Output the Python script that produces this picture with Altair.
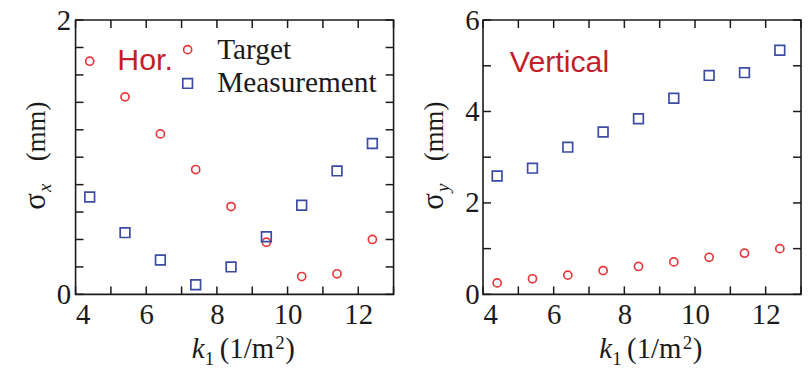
import altair as alt
import pandas as pd

# ---------------- data ----------------
k1 = [4.4, 5.4, 6.4, 7.4, 8.4, 9.4, 10.4, 11.4, 12.4]
hor_target = [1.70, 1.44, 1.17, 0.91, 0.64, 0.38, 0.13, 0.15, 0.40]
hor_meas = [0.71, 0.45, 0.25, 0.07, 0.20, 0.42, 0.65, 0.90, 1.10]
ver_target = [0.25, 0.34, 0.42, 0.52, 0.61, 0.71, 0.81, 0.90, 1.00]
ver_meas = [2.59, 2.76, 3.22, 3.55, 3.84, 4.29, 4.79, 4.85, 5.34]

series = ["Target", "Measurement"]
x_ticks = [4, 5, 6, 7, 8, 9, 10, 11, 12, 13]
x_labels = [4, 6, 8, 10, 12]
hor_y_ticks = [0, 0.2, 0.4, 0.6, 0.8, 1.0, 1.2, 1.4, 1.6, 1.8, 2.0]
hor_y_labels = [0, 1, 2]
ver_y_ticks = [0, 1, 2, 3, 4, 5, 6]
ver_y_labels = [0, 2, 4, 6]

# ---------------- style ----------------
W, H = 320, 276
RED, BLUE, TXT_RED = "#e8383d", "#3b4ba6", "#c41e2a"
SERIF, SANS = "Liberation Serif", "Liberation Sans"
INK = "#1a1a1a"
TICK = 8


def make_df(t, m):
    return pd.DataFrame({
        "k1": k1 + k1,
        "sigma": t + m,
        "series": ["Target"] * len(k1) + ["Measurement"] * len(k1),
    })


def text(s, x, y, size, font=SERIF, style="normal", color=INK, angle=0):
    return alt.Chart(pd.DataFrame({"t": [s]})).mark_text(
        font=font, fontSize=size, fontStyle=style, color=color,
        align="left", baseline="alphabetic", angle=angle,
    ).encode(text="t:N", x=alt.value(x), y=alt.value(y))


def panel(df, ydom, yticks, ylabels, sub, show_legend, label, label_x, label_y, ytitle_x, lpad):
    xscale = alt.Scale(domain=[4, 13], nice=False, zero=False)
    yscale = alt.Scale(domain=ydom, nice=False, zero=False)
    xaxis = alt.Axis(values=x_labels, title=None, ticks=False, domain=False, grid=False,
                     labelPadding=6, format="d", labelFont=SERIF, labelFontSize=29,
                     labelColor=INK)
    yaxis = alt.Axis(values=ylabels, title=None, ticks=False, domain=False, grid=False,
                     labelPadding=lpad, format="d", labelFont=SERIF, labelFontSize=29,
                     labelColor=INK)

    if show_legend:
        leg = alt.Legend(title=None, orient="none", legendX=98, legendY=15,
                         labelFont=SERIF, labelFontSize=29.5, labelColor=INK,
                         rowPadding=3, labelOffset=15, padding=0, labelLimit=0,
                         symbolStrokeWidth=1.7)
    else:
        leg = None

    pts = alt.Chart(df).mark_point(filled=False, strokeWidth=1.7, opacity=1).encode(
        x=alt.X("k1:Q", scale=xscale, axis=xaxis),
        y=alt.Y("sigma:Q", scale=yscale, axis=yaxis),
        color=alt.Color("series:N", scale=alt.Scale(domain=series, range=[RED, BLUE]),
                        legend=leg, sort=series),
        shape=alt.Shape("series:N", scale=alt.Scale(domain=series, range=["circle", "square"]),
                        legend=leg, sort=series),
        size=alt.Size("series:N", scale=alt.Scale(domain=series, range=[66, 95]),
                      legend=leg, sort=series),
    )

    xt = alt.Chart(pd.DataFrame({"t": x_ticks}))
    yt = alt.Chart(pd.DataFrame({"t": yticks}))
    rx = alt.X("t:Q", scale=xscale, axis=xaxis)
    ry = alt.Y("t:Q", scale=yscale, axis=yaxis)
    tb = xt.mark_rule(color=INK, strokeWidth=1.5).encode(x=rx, y=alt.value(H), y2=alt.value(H - TICK))
    tt = xt.mark_rule(color=INK, strokeWidth=1.5).encode(x=rx, y=alt.value(0), y2=alt.value(TICK))
    tl = yt.mark_rule(color=INK, strokeWidth=1.5).encode(y=ry, x=alt.value(0), x2=alt.value(TICK))
    tr = yt.mark_rule(color=INK, strokeWidth=1.5).encode(y=ry, x=alt.value(W), x2=alt.value(W - TICK))

    # y title: sigma_sub (mm), rotated
    yt1 = text("σ", ytitle_x, 191, 31, angle=270)
    yt2 = text(sub, ytitle_x + 6, 173, 19, style="italic", angle=270)
    yt3 = text("(mm)", ytitle_x, 142, 27, angle=270)
    # x title: k_1 (1/m^2)
    xt1 = text("k", 117, 340, 29, style="italic")
    xt2 = text("1", 130, 347, 19)
    xt3 = text("(1/m", 145, 340, 29)
    xt4 = text("2", 201, 331, 19)
    xt5 = text(")", 211, 340, 29)

    lab = text(label, label_x, label_y, 30.5, font=SANS, color=TXT_RED)

    return alt.layer(pts, tb, tt, tl, tr, yt1, yt2, yt3, xt1, xt2, xt3, xt4, xt5, lab).properties(
        width=W, height=H)


left = panel(make_df(hor_target, hor_meas), [0, 2], hor_y_ticks, hor_y_labels, "x",
             True, "Hor.", 42, 50, -31, 5)
right = panel(make_df(ver_target, ver_meas), [0, 6], ver_y_ticks, ver_y_labels, "y",
              False, "Vertical", 27, 52, -40, 4)

chart = alt.hconcat(left, right, spacing=90, bounds="flush").properties(
    padding={"left": 11, "top": -4, "right": 0, "bottom": 0},
    background="white",
).configure_view(stroke=INK, strokeWidth=1.6)

chart.save("out.html", embed_options={"renderer": "svg", "actions": False})
